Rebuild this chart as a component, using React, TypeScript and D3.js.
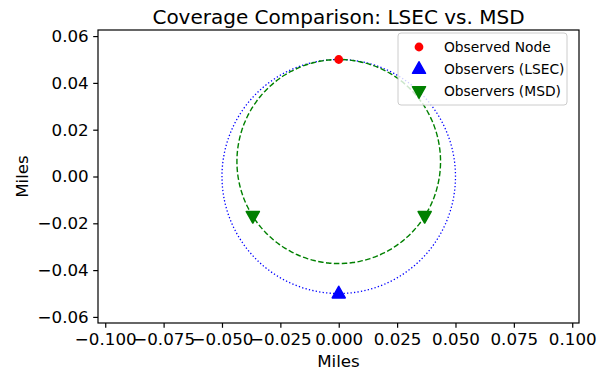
import React, { useEffect, useRef } from "react";
import * as d3 from "d3";

const WIDTH = 608;
const HEIGHT = 373;
const MARGIN = { top: 30, right: 29, bottom: 50, left: 98 };

// data (miles)
const observedNode = [{ x: 0, y: 0.05 }];
const lsecObservers = [{ x: 0, y: -0.05 }];
const msdObservers = [
  { x: -0.0368, y: -0.0168 },
  { x: 0.0368, y: -0.0168 },
];
const lsecCircle = { cx: 0, cy: 0, r: 0.05 };
const msdCircle = { cx: 0, cy: 0.0064, r: 0.0436 };

const xTicks = [-0.1, -0.075, -0.05, -0.025, 0, 0.025, 0.05, 0.075, 0.1];
const yTicks = [-0.06, -0.04, -0.02, 0, 0.02, 0.04, 0.06];
const xDomain = [-0.1031, 0.1029];
const yDomain = [-0.0626, 0.0626];

const legendItems = [
  { label: "Observed Node", kind: "dot", color: "red" },
  { label: "Observers (LSEC)", kind: "up", color: "blue" },
  { label: "Observers (MSD)", kind: "down", color: "green" },
];

const FONT = "'DejaVu Sans', sans-serif";

const App = () => {
  const ref = useRef(null);

  useEffect(() => {
    document.body.style.margin = "0";
    const svg = d3.select(ref.current);
    svg.selectAll("*").remove();

    const innerW = WIDTH - MARGIN.left - MARGIN.right;
    const innerH = HEIGHT - MARGIN.top - MARGIN.bottom;

    const x = d3.scaleLinear().domain(xDomain).range([0, innerW]);
    const y = d3.scaleLinear().domain(yDomain).range([innerH, 0]);
    const fmt = (d) => (d < 0 ? "\u2212" : "") + d3.format(".3f")(Math.abs(d));
    const fmtY = (d) => (d < 0 ? "\u2212" : "") + d3.format(".2f")(Math.abs(d));

    const g = svg
      .append("g")
      .attr("transform", `translate(${MARGIN.left},${MARGIN.top})`);

    // coverage circles
    const circ = (c) => {
      const pts = d3.range(0, 360, 2).map((a) => {
        const t = (a * Math.PI) / 180;
        return [c.cx + c.r * Math.sin(t), c.cy + c.r * Math.cos(t)];
      });
      return d3
        .line()
        .x((d) => x(d[0]))
        .y((d) => y(d[1]))
        .curve(d3.curveCardinalClosed)(pts);
    };

    g.append("path")
      .attr("d", circ(lsecCircle))
      .attr("fill", "none")
      .attr("stroke", "blue")
      .attr("stroke-width", 1.3)
      .attr("stroke-dasharray", "1.3,2.2");

    g.append("path")
      .attr("d", circ(msdCircle))
      .attr("fill", "none")
      .attr("stroke", "green")
      .attr("stroke-width", 1.4)
      .attr("stroke-dasharray", "5.5,2.4");

    const tri = (up, s) =>
      up
        ? `M0,${-s}L${s * 0.9},${s * 0.6}L${-s * 0.9},${s * 0.6}Z`
        : `M0,${s}L${s * 0.9},${-s * 0.6}L${-s * 0.9},${-s * 0.6}Z`;

    g.selectAll("circle.node")
      .data(observedNode)
      .enter()
      .append("circle")
      .attr("class", "node")
      .attr("cx", (d) => x(d.x))
      .attr("cy", (d) => y(d.y))
      .attr("r", 4.4)
      .attr("fill", "red");

    g.selectAll("path.lsec")
      .data(lsecObservers)
      .enter()
      .append("path")
      .attr("class", "lsec")
      .attr("d", tri(true, 7.2))
      .attr("transform", (d) => `translate(${x(d.x)},${y(d.y)})`)
      .attr("fill", "blue")
      .attr("stroke", "blue")
      .attr("stroke-linejoin", "round")
      .attr("stroke-width", 1.6);

    g.selectAll("path.msd")
      .data(msdObservers)
      .enter()
      .append("path")
      .attr("class", "msd")
      .attr("d", tri(false, 7.2))
      .attr("transform", (d) => `translate(${x(d.x)},${y(d.y)})`)
      .attr("fill", "green")
      .attr("stroke", "green")
      .attr("stroke-linejoin", "round")
      .attr("stroke-width", 1.6);

    // frame
    g.append("rect")
      .attr("width", innerW)
      .attr("height", innerH)
      .attr("fill", "none")
      .attr("stroke", "black")
      .attr("stroke-width", 1.2);

    // axes
    const xAxis = g
      .append("g")
      .attr("transform", `translate(0,${innerH})`)
      .call(d3.axisBottom(x).tickValues(xTicks).tickFormat(fmt).tickSize(4.8).tickPadding(5));
    const yAxis = g
      .append("g")
      .call(d3.axisLeft(y).tickValues(yTicks).tickFormat(fmtY).tickSize(4.8).tickPadding(4.5));
    [xAxis, yAxis].forEach((a) => {
      a.select(".domain").remove();
      a.selectAll("line").attr("stroke", "black").attr("stroke-width", 1.2);
      a.selectAll("text")
        .attr("fill", "black")
        .style("font-family", FONT)
        .style("font-size", "16.7px");
    });

    // labels
    svg.append("text")
      .attr("x", MARGIN.left + innerW / 2)
      .attr("y", 24)
      .attr("text-anchor", "middle")
      .style("font-family", FONT)
      .style("font-size", "20px")
      .text("Coverage Comparison: LSEC vs. MSD");

    svg.append("text")
      .attr("x", MARGIN.left + innerW / 2)
      .attr("y", 367)
      .attr("text-anchor", "middle")
      .style("font-family", FONT)
      .style("font-size", "16.7px")
      .text("Miles");

    svg.append("text")
      .attr("transform", `translate(28,${MARGIN.top + innerH / 2}) rotate(-90)`)
      .attr("text-anchor", "middle")
      .style("font-family", FONT)
      .style("font-size", "16.7px")
      .text("Miles");

    // legend
    const lg = svg.append("g").attr("transform", "translate(398,33)");
    lg.append("rect")
      .attr("width", 169)
      .attr("height", 72)
      .attr("rx", 3)
      .attr("fill", "white")
      .attr("fill-opacity", 0.8)
      .attr("stroke", "#cccccc")
      .attr("stroke-width", 1);
    const items = lg
      .selectAll("g.item")
      .data(legendItems)
      .enter()
      .append("g")
      .attr("class", "item")
      .attr("transform", (d, i) => `translate(21,${14 + i * 22})`);
    items.each(function (d) {
      const it = d3.select(this);
      if (d.kind === "dot") {
        it.append("circle").attr("r", 4.4).attr("fill", d.color);
      } else {
        it.append("path")
          .attr("d", tri(d.kind === "up", 7.2))
          .attr("fill", d.color)
          .attr("stroke", d.color)
          .attr("stroke-linejoin", "round")
          .attr("stroke-width", 1.6);
      }
    });
    items
      .append("text")
      .attr("x", 25)
      .attr("y", 5)
      .style("font-family", FONT)
      .style("font-size", "13.8px")
      .text((d) => d.label);
  }, []);

  return <svg ref={ref} width={WIDTH} height={HEIGHT} style={{ display: "block" }} />;
};

export default App;
